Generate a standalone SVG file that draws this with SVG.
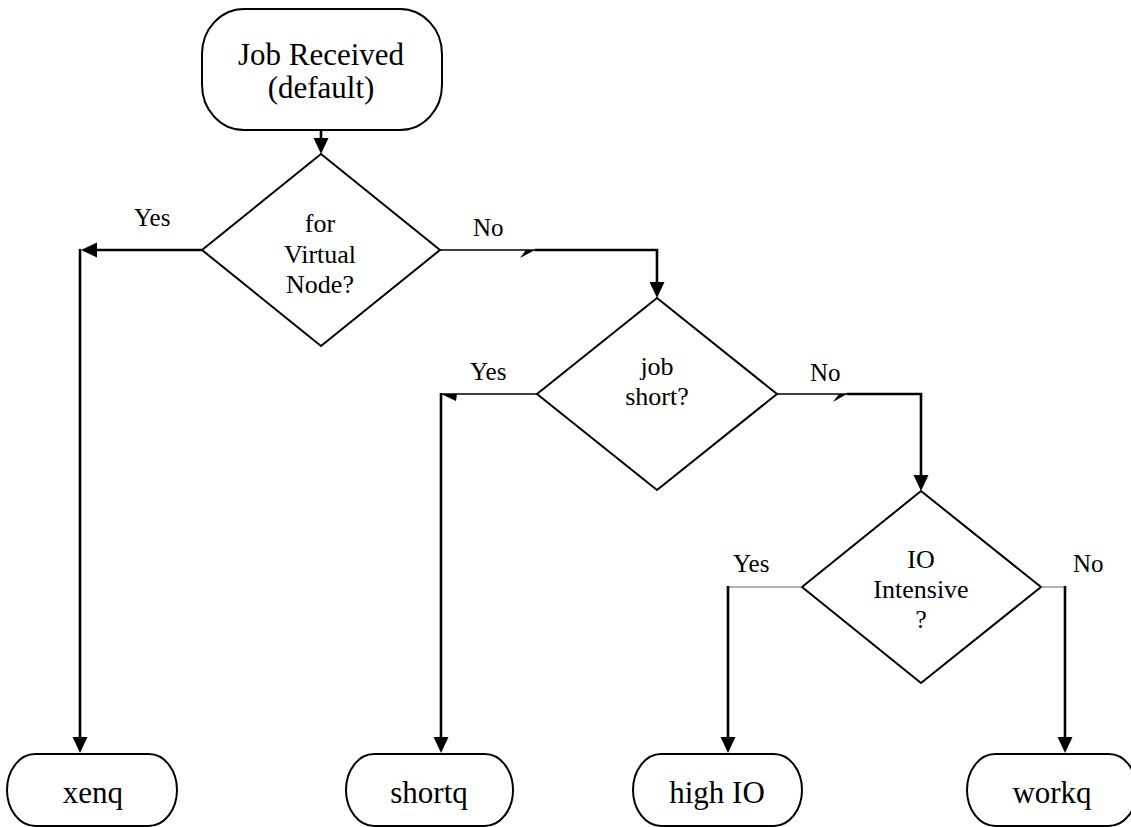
<svg xmlns="http://www.w3.org/2000/svg" width="1131" height="827" viewBox="0 0 1131 827">
  <style>
    .box { fill: #fff; stroke: #000; stroke-width: 2; }
    .dec { fill: #fff; stroke: #000; stroke-width: 2; }
    .txt { font-family: "Liberation Serif", "Times New Roman", serif; fill: #000; text-anchor: middle; }
    .term { font-size: 31px; }
    .qtxt { font-size: 26px; }
    .lbl { font-family: "Liberation Serif", "Times New Roman", serif; font-size: 25px; fill: #000; }
    .thick { fill: none; stroke: #000; stroke-width: 2.6; }
    .thin { fill: none; stroke: #000; stroke-width: 1.5; }
    .hair { fill: none; stroke: #666; stroke-width: 1; }
    .half { fill: #000; stroke: none; }
  </style>
  <defs>
    <marker id="arrow" markerUnits="userSpaceOnUse" markerWidth="16" markerHeight="16" refX="0" refY="7.5" orient="auto">
      <path d="M0,0 L16,7.5 L0,15 Z" fill="#000"/>
    </marker>
  </defs>

  <!-- start node -->
  <g id="job-received">
    <rect class="box" x="202" y="9" width="240" height="121" rx="42" ry="45"/>
    <text class="txt term" x="321" y="65" font-size="32">Job Received</text>
    <text class="txt term" x="321" y="98" font-size="32">(default)</text>
  </g>

  <!-- decisions -->
  <g id="virtual-node">
    <polygon class="dec" points="321,154 440,250 321,346 202,250"/>
    <text class="txt qtxt" x="320" y="232">for</text>
    <text class="txt qtxt" x="320" y="263">Virtual</text>
    <text class="txt qtxt" x="320" y="293">Node?</text>
  </g>

  <g id="job-short">
    <polygon class="dec" points="657,298 777,394 657,490 537,394"/>
    <text class="txt qtxt" x="657" y="375">job</text>
    <text class="txt qtxt" x="657" y="405">short?</text>
  </g>

  <g id="io-intensive">
    <polygon class="dec" points="921,491 1041,587 921,683 802,587"/>
    <text class="txt qtxt" x="921" y="568">IO</text>
    <text class="txt qtxt" x="921" y="598">Intensive</text>
    <text class="txt qtxt" x="921" y="628">?</text>
  </g>

  <!-- queues -->
  <g id="xenq">
    <rect class="box" x="7" y="754" width="170" height="72" rx="28" ry="36"/>
    <text class="txt term" x="93" y="803">xenq</text>
  </g>
  <g id="shortq">
    <rect class="box" x="346" y="754" width="167" height="72" rx="28" ry="36"/>
    <text class="txt term" x="429" y="803">shortq</text>
  </g>
  <g id="high-io">
    <rect class="box" x="633" y="754" width="169" height="72" rx="28" ry="36"/>
    <text class="txt term" x="717" y="803">high IO</text>
  </g>
  <g id="workq">
    <rect class="box" x="967" y="754" width="170" height="72" rx="28" ry="36"/>
    <text class="txt term" x="1052" y="803">workq</text>
  </g>

  <!-- connectors -->
  <g id="connectors">
    <path class="thick" d="M321,130 V138" marker-end="url(#arrow)"/>

    <!-- virtual node: yes -->
    <path class="thick" d="M202,250 H97" marker-end="url(#arrow)"/>
    <path class="thick" d="M80,249 V737" marker-end="url(#arrow)"/>

    <!-- virtual node: no -->
    <path class="thin" d="M440,250 H536"/>
    <polygon class="half" points="520,258 535,250 526,250"/>
    <path class="thick" d="M535,250 H657 V282" marker-end="url(#arrow)"/>

    <!-- job short: yes -->
    <path class="thin" d="M537,394 H441" stroke-width="1.8"/>
    <polygon class="half" points="441,394 457,394 456,401"/>
    <path class="thick" d="M441,393 V737" marker-end="url(#arrow)"/>

    <!-- job short: no -->
    <path class="thin" d="M777,394 H848"/>
    <polygon class="half" points="833,402 847,394 839,394"/>
    <path class="thick" d="M847,394 H921 V475" marker-end="url(#arrow)"/>

    <!-- io intensive: yes / no -->
    <path class="hair" d="M802,587 H728"/>
    <path class="thick" d="M728,586 V737" marker-end="url(#arrow)"/>
    <path class="hair" d="M1041,587 H1065"/>
    <path class="thick" d="M1065,586 V737" marker-end="url(#arrow)"/>
  </g>

  <!-- branch labels -->
  <g id="labels">
    <text class="lbl" x="134" y="226">Yes</text>
    <text class="lbl" x="473" y="236">No</text>
    <text class="lbl" x="470" y="380">Yes</text>
    <text class="lbl" x="810" y="381">No</text>
    <text class="lbl" x="733" y="572">Yes</text>
    <text class="lbl" x="1073" y="572">No</text>
  </g>
</svg>
